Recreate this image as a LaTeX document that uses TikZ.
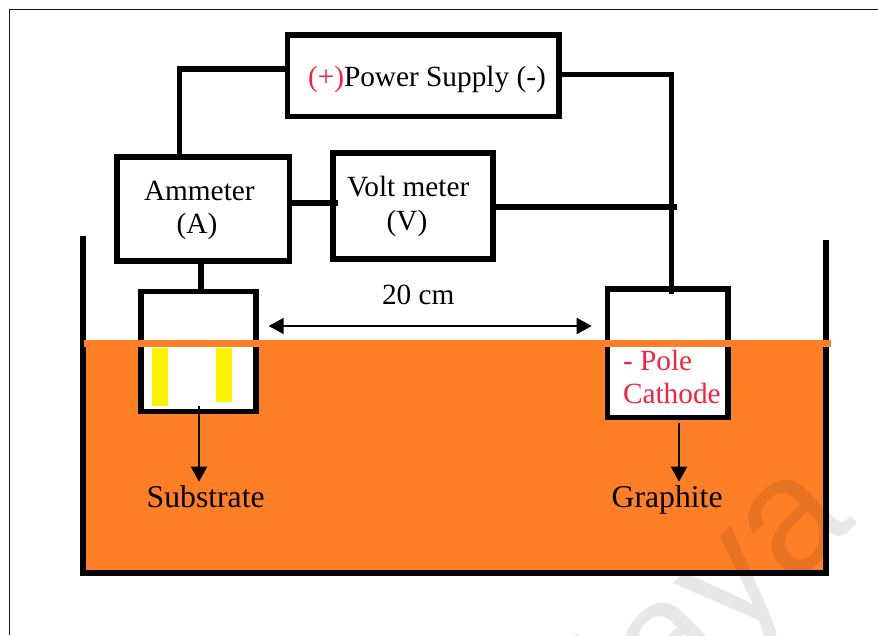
\documentclass[tikz,border=0pt]{standalone}
\usepackage{fontspec}
\setmainfont{Liberation Serif}
\newfontfamily\wmfont{Liberation Sans}
\usetikzlibrary{arrows.meta}
\definecolor{liquid}{HTML}{FF7F27}
\definecolor{plate}{HTML}{FFF200}
\definecolor{polered}{HTML}{F5243C}
\tikzset{
  x=1pt,y=-1pt,
  wire/.style={line width=5.5pt,draw=black},
  wallline/.style={line width=5.8pt,draw=black},
  unitbox/.style={draw=black,line width=5.5pt,fill=white,inner sep=0pt,outer sep=0pt,anchor=north west},
  lbl/.style={inner sep=0pt,outer sep=0pt,anchor=base west,text=black},
  lblc/.style={inner sep=0pt,outer sep=0pt,anchor=base,text=black},
  big/.style={font=\fontsize{31.7}{34}\selectfont},
  mid/.style={font=\fontsize{29.3}{32}\selectfont},
  pointer/.style={line width=1.9pt,-{Triangle[length=15pt,width=16pt]}},
  span/.style={line width=1.9pt,{Triangle[length=15pt,width=16pt]}-{Triangle[length=15pt,width=16pt]}},
}
\begin{document}
\begin{tikzpicture}
\useasboundingbox (0,0) rectangle (878,635);
\fill[white] (0,0) rectangle (878,635);
% page frame
\coordinate (frameA) at (9.5,635);
\coordinate (frameB) at (9.5,9.5);
\coordinate (frameC) at (878,9.5);
\draw[line width=1.3pt,draw=black!90] (frameA) -- (frameB) -- (frameC);
% liquid
\fill[liquid] (84,340) rectangle (824,571);
% watermark
\begin{scope}
\clip (0,0) rectangle (878,635);
\node[inner sep=0pt,anchor=base east,rotate=45,text=black,text opacity=0.09,font=\wmfont\fontsize{165}{165}\selectfont] (mark) at (858,522) {laya};
\end{scope}
% tank
\coordinate (tankA) at (82.7,236);
\coordinate (tankB) at (82.7,573);
\coordinate (tankC) at (825.7,573);
\coordinate (tankD) at (825.7,240);
\draw[wallline,miter limit=10] (tankA) -- (tankB) -- (tankC) -- (tankD);
% units
\node[unitbox,minimum width=271.5pt,minimum height=81.5pt] (power) at (287.5,35) {};
\node[unitbox,minimum width=172.5pt,minimum height=104pt] (amm) at (117,157) {};
\node[unitbox,minimum width=160pt,minimum height=106pt] (volt) at (333,153) {};
\node[unitbox,minimum width=115pt,minimum height=120pt] (left) at (141,291.5) {};
\node[unitbox,minimum width=120.3pt,minimum height=128.5pt] (right) at (607.5,289) {};
% wires
\coordinate (pl) at (287,69);
\coordinate (ptop) at (179.5,69);
\coordinate (at) at (179.5,157);
\draw[wire] (pl) -- (ptop) -- (at);
\coordinate (pr) at (559,74.5);
\coordinate (rc) at (671.7,74.5);
\coordinate (rb) at (671.7,294);
\draw[wire] (pr) -- (rc) -- (rb);
\coordinate (av1) at (289,203);
\coordinate (av2) at (338,203);
\draw[wire] (av1) -- (av2);
\coordinate (vr1) at (493,207);
\coordinate (vr2) at (676.7,207);
\draw[wire] (vr1) -- (vr2);
\coordinate (al1) at (201,261);
\coordinate (al2) at (201,291);
\draw[wire] (al1) -- (al2);
% surface strip
\fill[liquid] (84,340) rectangle (830.7,346.5);
% plates
\fill[plate] (152,348) rectangle (168.3,406);
\fill[plate] (216,348) rectangle (232,402);
% arrows
\coordinate (subA) at (199,405.7);
\coordinate (subB) at (199,481.7);
\draw[pointer] (subA) -- (subB);
\coordinate (graA) at (679,423);
\coordinate (graB) at (679,481.7);
\draw[pointer] (graA) -- (graB);
\coordinate (spanA) at (268.7,326);
\coordinate (spanB) at (591.7,326);
\draw[span] (spanA) -- (spanB);
% labels
\node[lbl,mid] (ptext) at (308,86) {\textcolor{polered}{(+)}Power Supply (-)};
\node[lbl,mid] (atext) at (144,200) {Ammeter};
\node[lblc,mid] (atext2) at (197,233) {(A)};
\node[lbl,mid] (vtext) at (347,196) {Volt meter};
\node[lblc,mid] (vtext2) at (407,230) {(V)};
\node[lbl,mid] (dist) at (382,304) {20 cm};
\node[lbl,mid,text=polered] (pole) at (623,370) {- Pole};
\node[lbl,mid,text=polered] (cath) at (623,403.3) {Cathode};
\node[lbl,big] (sub) at (146.7,507.7) {Substrate};
\node[lbl,big] (gra) at (611.7,507.7) {Graphite};
\end{tikzpicture}
\end{document}
